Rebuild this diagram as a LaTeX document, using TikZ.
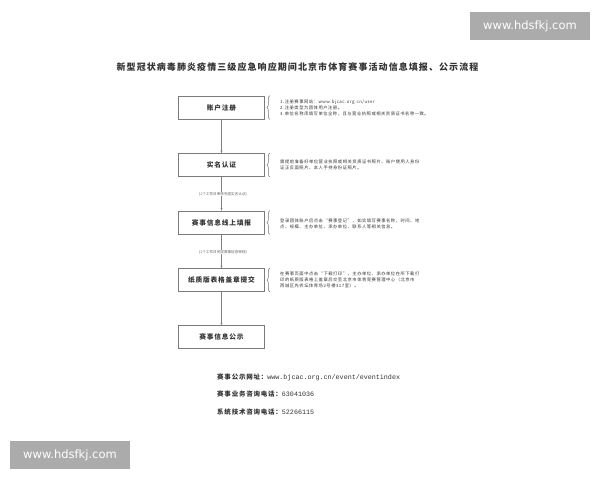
\documentclass[tikz,border=0pt]{standalone}
\usepackage{fontspec}
\newfontfamily\cjk{Noto Sans CJK SC}
\newfontfamily\cjksp[LetterSpace=12]{Noto Sans CJK SC}
\newfontfamily\monof{Liberation Mono}
\newfontfamily\wmf{DejaVu Sans}
\usetikzlibrary{decorations.pathreplacing,arrows.meta}
\definecolor{boxline}{HTML}{7A7A7A}
\definecolor{txt}{HTML}{333333}
\definecolor{wmgray}{HTML}{ABABAB}
\begin{document}
\begin{tikzpicture}[x=1pt,y=-1pt,
  stepbox/.style={draw=boxline, line width=0.7pt, minimum width=86pt, minimum height=23pt,
    inner sep=0pt, font=\cjksp\bfseries\fontsize{6.7}{8}\selectfont, text=txt},
  sidetext/.style={anchor=west, align=left, inner sep=0pt, text=txt,
    font=\cjksp\fontsize{4.3}{6.2}\selectfont},
  note/.style={fill=white, inner sep=0.5pt, text=black!60,
    font=\cjk\fontsize{3.6}{4}\selectfont},
  conn/.style={draw=black!50, line width=0.7pt, -{Stealth[length=2.5pt,width=2pt]}},
  bracestyle/.style={draw=black!55, line width=0.5pt, decorate,
    decoration={brace, amplitude=3pt}},
  infotext/.style={anchor=west, inner sep=0pt, text=txt},
  watermark/.style={fill=wmgray, text=white, minimum width=120pt, minimum height=28pt,
    inner sep=0pt, font=\wmf\fontsize{11.5}{12}\selectfont}]
\useasboundingbox (0,0) rectangle (600,480);
\fill[white] (0,0) rectangle (600,480);

\node[text=txt, font=\cjksp\bfseries\fontsize{9}{11}\selectfont] (title) at (297.5,67)
  {新型冠状病毒肺炎疫情三级应急响应期间北京市体育赛事活动信息填报、公示流程};

\node[stepbox] (b1) at (221.5,107.5) {账户注册};
\node[stepbox] (b2) at (221.5,165) {实名认证};
\node[stepbox] (b3) at (221.5,222.5) {赛事信息线上填报};
\node[stepbox] (b4) at (221.5,280) {纸质版表格盖章提交};
\node[stepbox] (b5) at (221.5,337) {赛事信息公示};

\draw[conn] (b1) -- (b2);
\draw[conn] (b2) -- (b3);
\draw[conn] (b3) -- (b4);
\draw[conn] (b4) -- (b5);

\node[note] (n1) at (223,194) {(1个工作日审核完成实名认证)};
\node[note] (n2) at (223,252) {(1个工作日完成赛事信息审核)};

\draw[bracestyle] ([xshift=5pt]b1.south east) -- ([xshift=5pt]b1.north east);
\draw[bracestyle] ([xshift=5pt]b2.south east) -- ([xshift=5pt]b2.north east);
\draw[bracestyle] ([xshift=5pt]b3.south east) -- ([xshift=5pt]b3.north east);
\draw[bracestyle] ([xshift=5pt]b4.south east) -- ([xshift=5pt]b4.north east);

\node[sidetext] (t1) at (280,108) {1.注册赛事网站：www.bjcac.org.cn/user\\2.注册类型为团体用户注册。\\3.单位名称须填写单位全称，且与营业执照或相关资质证书名称一致。};
\node[sidetext] (t2) at (280,165) {需提前准备好单位营业执照或相关资质证书照片、账户使用人身份\\证正反面照片、本人手持身份证照片。};
\node[sidetext] (t3) at (280,223.5) {登录团体账户后点击“赛事登记”，如实填写赛事名称、时间、地\\点、规模、主办单位、承办单位、联系人等相关信息。};
\node[sidetext] (t4) at (280,280) {在赛事页面中点击“下载打印”，主办单位、承办单位在所下载打\\印的纸质版表格上盖章后交至北京市体育竞赛管理中心（北京市\\西城区先农坛体育场2号楼317室）。};

\node[infotext] (i1) at (217,377) {{\cjksp\bfseries\fontsize{6.5}{8}\selectfont 赛事公示网址：}{\monof\fontsize{6.7}{8}\selectfont www.bjcac.org.cn/event/eventindex}};
\node[infotext] (i2) at (217,394) {{\cjksp\bfseries\fontsize{6.5}{8}\selectfont 赛事业务咨询电话：}{\monof\fontsize{6.7}{8}\selectfont 63041036}};
\node[infotext] (i3) at (217,412) {{\cjksp\bfseries\fontsize{6.5}{8}\selectfont 系统技术咨询电话：}{\monof\fontsize{6.7}{8}\selectfont 52266115}};

\node[watermark] (wm1) at (530,26) {www.hdsfkj.com};
\node[watermark] (wm2) at (70,455) {www.hdsfkj.com};
\end{tikzpicture}
\end{document}
